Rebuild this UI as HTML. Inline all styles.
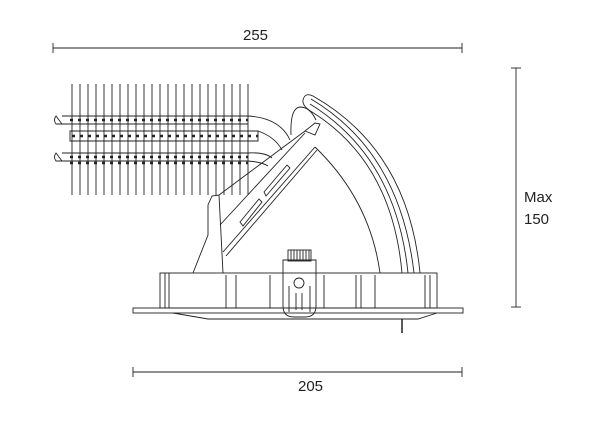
<!DOCTYPE html>
<html><head><style>
html,body{margin:0;padding:0;background:#fff;width:600px;height:422px;overflow:hidden}
text{font-family:"Liberation Sans",sans-serif;font-size:15px;fill:#222}
</style></head><body>
<svg width="600" height="422" viewBox="0 0 600 422" xmlns="http://www.w3.org/2000/svg" fill="none" stroke="#222" stroke-width="0.9">
<line x1="53" y1="48" x2="462" y2="48"/><line x1="53" y1="43" x2="53" y2="53"/><line x1="462" y1="43" x2="462" y2="53"/>
<text x="243" y="40" stroke="none">255</text>
<line x1="133" y1="372" x2="462" y2="372"/><line x1="133" y1="367" x2="133" y2="377"/><line x1="462" y1="367" x2="462" y2="377"/>
<text x="298" y="391" stroke="none">205</text>
<line x1="516" y1="68" x2="516" y2="307"/><line x1="511" y1="68" x2="521" y2="68"/><line x1="511" y1="307" x2="521" y2="307"/>
<text x="524" y="202" stroke="none">Max</text><text x="524" y="224" stroke="none">150</text>
<g>
<line x1="72" y1="84" x2="72" y2="195"/><line x1="80" y1="84" x2="80" y2="195"/><line x1="88" y1="84" x2="88" y2="195"/><line x1="96" y1="84" x2="96" y2="195"/><line x1="104" y1="84" x2="104" y2="195"/><line x1="112" y1="84" x2="112" y2="195"/><line x1="120" y1="84" x2="120" y2="195"/><line x1="128" y1="84" x2="128" y2="195"/><line x1="136" y1="84" x2="136" y2="195"/><line x1="144" y1="84" x2="144" y2="195"/><line x1="152" y1="84" x2="152" y2="195"/><line x1="160" y1="84" x2="160" y2="195"/><line x1="168" y1="84" x2="168" y2="195"/><line x1="176" y1="84" x2="176" y2="195"/><line x1="184" y1="84" x2="184" y2="195"/><line x1="192" y1="84" x2="192" y2="195"/><line x1="200" y1="84" x2="200" y2="195"/><line x1="208" y1="84" x2="208" y2="195"/><line x1="216" y1="84" x2="216" y2="195"/><line x1="224" y1="84" x2="224" y2="195"/><line x1="232" y1="84" x2="232" y2="195"/><line x1="240" y1="84" x2="240" y2="195"/><line x1="248" y1="84" x2="248" y2="195"/>
</g>
<path d="M62 116 H248 M62 124 H248 M56 116 Q53 120 56 124 H62 Z"/>
<path d="M62 153 H248 M62 161 H248 M56 153 Q53 157 56 161 H62 Z"/>
<path d="M70 131 H258 V141 H70 Z"/>
<g stroke-dasharray="3 5" stroke-width="2.5">
<line x1="70" y1="120" x2="248" y2="120"/><line x1="72" y1="136" x2="258" y2="136"/><line x1="70" y1="157" x2="248" y2="157"/><line x1="70" y1="163" x2="248" y2="163"/>
</g>
<path d="M248 116 Q280 118 290 140 M258 131 Q275 137 282 150 M248 153 Q265 152 272 158 M248 161 Q262 162 268 166"/>
<!-- post and arm -->
<path d="M193 273 L208 235 L208 205 L212 196 L219 195 L223 273"/>
<path d="M219 195 L305 131 M220 225 L305 133 M223 252 L315 147 M226 256 L317 150"/>
<path d="M305 131 L315 123 L320 124 L315 135 Z"/>
<path d="M240 222 L259 199 L262 202 L243 226 Z M264 192 L287 165 L290 168 L266 196 Z"/>
<path d="M291 135 Q290 108 300 107 Q310 107 316 120"/>
<!-- arc -->
<path d="M315 147 Q370 200 380 273"/>
<path d="M303 100 Q305 92 313 96 Q408 150 420 273"/>
<path d="M303 100 Q302 106 312 112 Q392 162 402 273"/>
<path d="M311 99 Q400 152 414 273 M310 104 Q396 157 408 273"/>
<!-- base -->
<rect x="160" y="273" width="277" height="35"/>
<path d="M165 273 V308 M169 273 V308 M226 275 V308 M236 275 V308 M270 275 V308 M324 275 V308 M356 275 V308 M361 275 V308 M375 275 V308 M425 275 V308 M430 275 V308"/>
<rect x="133" y="308" width="330" height="5"/>
<path d="M173 313 L208 319 H418 L437 313"/>
<line x1="402" y1="319" x2="402" y2="333" stroke-width="1.5"/>
<path d="M283 260 H316 V306 Q316 317 305 317 H294 Q283 317 283 306 Z"/>
<rect x="288" y="250" width="23" height="11"/>
<path d="M291 250 V260 M294 250 V260 M297 250 V260 M300 250 V260 M303 250 V260 M306 250 V260 M309 250 V260"/>
<circle cx="299" cy="283" r="5"/>
<path d="M296 293 V310 M302 293 V310 M289 286 V312 M310 286 V312"/>
</svg>
</body></html>
